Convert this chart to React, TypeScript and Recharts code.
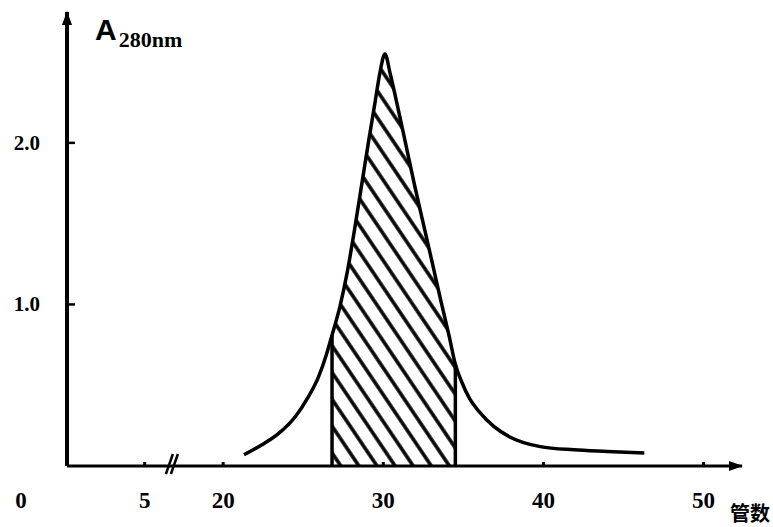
import React from "react";
import { ComposedChart, Line, Area, XAxis, YAxis, ReferenceLine } from "recharts";

// elution profile, A280 vs tube number
const tubes = [21.3, 22.4, 23.45, 24.5, 25.3, 25.95, 26.45, 26.8, 27.3, 27.75, 28.2, 28.65, 29.1, 29.5, 29.8, 30.1, 30.45, 30.95, 31.45, 31.95, 32.5, 33.1, 33.6, 34.1, 34.5, 34.9, 35.4, 36.0, 36.9, 37.9, 39.8, 41.9, 44.0, 46.3];
const absorbance = [0.07, 0.13, 0.2, 0.305, 0.425, 0.55, 0.69, 0.81, 0.99, 1.2, 1.46, 1.74, 2.02, 2.26, 2.44, 2.55, 2.42, 2.2, 1.97, 1.74, 1.5, 1.24, 1.02, 0.81, 0.63, 0.52, 0.415, 0.335, 0.245, 0.18, 0.12, 0.1, 0.09, 0.08];

// pooled fractions (hatched)
const shadeFrom = 26.8;
const shadeTo = 34.5;

const xTicks = [10.25, 15.1, 16.8, 20, 30, 40, 50];
const xTickLabels = ["0", "5", "", "20", "30", "40", "50"];
const xBreak = 16.8;
const yTicks = [1, 2];
const yTickLabels = ["1.0", "2.0"];

const data = tubes.map((t, i) => ({
  tube: t,
  absorbance: absorbance[i],
  shaded: t >= shadeFrom && t <= shadeTo ? absorbance[i] : null,
}));

const fromY = absorbance[tubes.indexOf(shadeFrom)];
const toY = absorbance[tubes.indexOf(shadeTo)];

const font = "'Liberation Serif', 'DejaVu Serif', serif";

function XTick(props: any) {
  const { x, y, payload, index } = props;
  const v = payload.value;
  if (v === xBreak) {
    return (
      <g stroke="#000" strokeWidth={2.5}>
        <line x1={x - 6} y1={y + 8} x2={x + 1} y2={y - 12} />
        <line x1={x - 1} y1={y + 8} x2={x + 6} y2={y - 12} />
      </g>
    );
  }
  const isOrigin = index === 0;
  return (
    <g>
      {!isOrigin && <line x1={x} y1={y} x2={x} y2={y - 4} stroke="#000" strokeWidth={3} />}
      <text x={isOrigin ? x - 46 : x} y={y + 42} textAnchor="middle" fontFamily={font} fontWeight="bold" fontSize={23} fill="#000">
        {xTickLabels[xTicks.indexOf(v)]}
      </text>
    </g>
  );
}

function YTick(props: any) {
  const { x, y, payload } = props;
  return (
    <g>
      <line x1={x} y1={y} x2={x + 8} y2={y} stroke="#000" strokeWidth={2.5} />
      <text x={x - 27} y={y + 7} textAnchor="end" fontFamily={font} fontWeight="bold" fontSize={21} fill="#000">
        {yTickLabels[yTicks.indexOf(payload.value)]}
      </text>
    </g>
  );
}

export default function App() {
  return (
    <div style={{ position: "absolute", left: 0, top: 0, width: 773, height: 527, background: "#fff" }}>
      <ComposedChart width={773} height={527} data={data} margin={{ top: 12, right: 31, bottom: 60, left: 66 }}>
        <defs>
          <pattern id="hatch" patternUnits="userSpaceOnUse" width={15} height={15} patternTransform="rotate(-34)">
            <line x1={7} y1={0} x2={7} y2={15} stroke="#000" strokeWidth={3.5} />
          </pattern>
          <marker id="arrowEnd" markerUnits="userSpaceOnUse" markerWidth={14} markerHeight={12} refX={13} refY={6} orient="auto">
            <path d="M0,1 L14,6 L0,11 Z" fill="#000" />
          </marker>
          <marker id="arrowStart" markerUnits="userSpaceOnUse" markerWidth={14} markerHeight={12} refX={13} refY={6} orient="auto-start-reverse">
            <path d="M0,1 L14,6 L0,11 Z" fill="#000" />
          </marker>
        </defs>
        <XAxis
          dataKey="tube"
          type="number"
          domain={[10.25, 52.4]}
          ticks={xTicks}
          interval={0}
          height={1}
          tickSize={0}
          tickMargin={0}
          tickLine={false}
          axisLine={{ stroke: "#000", strokeWidth: 3, markerEnd: "url(#arrowEnd)" } as any}
          tick={<XTick />}
          allowDataOverflow
        />
        <YAxis
          type="number"
          domain={[0, 2.81]}
          ticks={yTicks}
          width={1}
          tickSize={0}
          tickMargin={0}
          tickLine={false}
          axisLine={{ stroke: "#000", strokeWidth: 4, markerStart: "url(#arrowStart)" } as any}
          tick={<YTick />}
          allowDataOverflow
        />
        <Area
          dataKey="shaded"
          type="monotone"
          stroke="none"
          fill="url(#hatch)"
          fillOpacity={1}
          baseValue={0}
          dot={false}
          activeDot={false}
          isAnimationActive={false}
        />
        <Line dataKey="absorbance" type="monotone" stroke="#000" strokeWidth={3.5} dot={false} activeDot={false} isAnimationActive={false} />
        <ReferenceLine segment={[{ x: shadeFrom, y: 0 }, { x: shadeFrom, y: fromY }]} stroke="#000" strokeWidth={3.5} />
        <ReferenceLine segment={[{ x: shadeTo, y: 0 }, { x: shadeTo, y: toY }]} stroke="#000" strokeWidth={3.5} />
        <text x={95} y={40} fontFamily="'Liberation Sans', Arial, sans-serif" fontWeight="bold" fill="#000">
          <tspan fontSize={30}>A</tspan>
          <tspan fontSize={22} dy={7} dx={2} fontFamily={font}>280nm</tspan>
        </text>
        <text x={750} y={521} textAnchor="middle" fontFamily="'Noto Sans CJK SC', sans-serif" fontWeight="bold" fontSize={20} fill="#000">
          管数
        </text>
      </ComposedChart>
    </div>
  );
}
